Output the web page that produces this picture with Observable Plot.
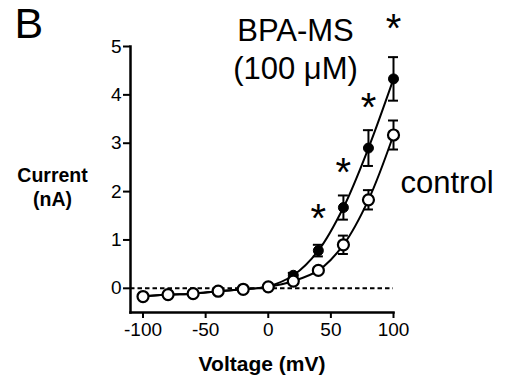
<!DOCTYPE html>
<html>
<head>
<meta charset="utf-8">
<script src="https://cdn.jsdelivr.net/npm/d3@7"></script>
<script src="https://cdn.jsdelivr.net/npm/@observablehq/plot@0.6"></script>
<style>
  html, body { margin: 0; padding: 0; background: #fff; }
  #chart { width: 510px; height: 381px; }
</style>
</head>
<body>
<div id="chart"></div>
<script>
// ---- data ----
const voltage = [-100, -80, -60, -40, -20, 0, 20, 40, 60, 80, 100];
const controlMean = [-0.17, -0.13, -0.11, -0.06, -0.02, 0.03, 0.15, 0.37, 0.90, 1.83, 3.17];
const controlErr  = [0.02, 0.02, 0.02, 0.02, 0.02, 0.03, 0.04, 0.06, 0.19, 0.20, 0.30];
const bpaMean = [-0.17, -0.13, -0.11, -0.06, -0.02, 0.04, 0.27, 0.78, 1.67, 2.90, 4.33];
const bpaErr  = [0.02, 0.02, 0.02, 0.02, 0.02, 0.03, 0.05, 0.12, 0.25, 0.37, 0.45];
const sigVoltage = [40, 60, 80, 100];
const sigLevel = [1.60, 2.55, 3.88, 5.52];
const xTicks = [-100, -50, 0, 50, 100];
const yTicks = [0, 1, 2, 3, 4, 5];
const panelLabel = "B";
const xLabel = "Voltage (mV)";
const yLabel = "Current\n(nA)";
const bpaLabel = "BPA-MS\n(100 μM)";
const controlLabel = "control";

const control = voltage.map((v, i) => ({v, m: controlMean[i], e: controlErr[i]}));
const bpa = voltage.map((v, i) => ({v, m: bpaMean[i], e: bpaErr[i]}));
const sig = sigVoltage.map((v, i) => ({v, y: sigLevel[i]}));
const caps = s => s.flatMap(d => [{v: d.v, y: d.m - d.e}, {v: d.v, y: d.m + d.e}]);

const font = "Liberation Sans, Arial, Helvetica, sans-serif";

function errorBars(data) {
  return [
    Plot.ruleX(data, {x: "v", y1: d => d.m - d.e, y2: d => d.m + d.e, stroke: "#000", strokeWidth: 2}),
    Plot.ruleY(caps(data), {x1: "v", x2: "v", y: "y", insetLeft: -5, insetRight: -5, stroke: "#000", strokeWidth: 2})
  ];
}

const chart = Plot.plot({
  width: 510,
  height: 381,
  marginLeft: 130,
  marginRight: 117,
  marginTop: 46,
  marginBottom: 69,
  style: {fontFamily: font, color: "#000", background: "#fff", overflow: "visible"},
  x: {type: "linear", domain: [-110, 100]},
  y: {type: "linear", domain: [-0.5, 5]},
  marks: [
    Plot.ruleY([0], {stroke: "#000", strokeWidth: 2, strokeDasharray: "4.5,3"}),
    Plot.frame({anchor: "left", stroke: "#000", strokeWidth: 2.5}),
    Plot.frame({anchor: "bottom", stroke: "#000", strokeWidth: 2.5}),
    Plot.axisY(yTicks, {tickSize: 7, tickPadding: 2, fontSize: 19, strokeWidth: 2, label: null, fill: "#000", stroke: "#000", tickFormat: d => String(d)}),
    Plot.axisX(xTicks, {tickSize: 6, tickPadding: 4, fontSize: 19, strokeWidth: 2, label: null, fill: "#000", stroke: "#000", tickFormat: d => String(d)}),
    // BPA-MS series
    Plot.line(bpa, {x: "v", y: "m", curve: "catmull-rom", stroke: "#000", strokeWidth: 2}),
    ...errorBars(bpa),
    // control series
    Plot.line(control, {x: "v", y: "m", curve: "catmull-rom", stroke: "#000", strokeWidth: 2}),
    ...errorBars(control),
    Plot.dot(bpa, {x: "v", y: "m", r: 5, fill: "#000", stroke: "#000", strokeWidth: 1}),
    Plot.dot(control, {x: "v", y: "m", r: 5.5, fill: "#fff", stroke: "#000", strokeWidth: 2.2}),
    // significance stars
    Plot.text(sig, {x: "v", y: "y", text: () => "*", fontSize: 40, dy: 8, fill: "#000", clip: false}),
    // annotations
    Plot.text([bpaLabel], {frameAnchor: "top-left", dx: 165, dy: -32, textAnchor: "middle", lineAnchor: "top", lineHeight: 1.22, fontSize: 31, fill: "#000"}),
    Plot.text([controlLabel], {frameAnchor: "top-right", dx: 7, dy: 124, textAnchor: "start", lineAnchor: "top", fontSize: 31, fill: "#000"}),
    Plot.text([xLabel], {frameAnchor: "bottom", dy: 44, lineAnchor: "top", fontSize: 21, fontWeight: "bold", fill: "#000"}),
    Plot.text([yLabel], {frameAnchor: "top-left", dx: -78, dy: 118, textAnchor: "middle", lineAnchor: "top", lineHeight: 1.25, fontSize: 19.5, fontWeight: "bold", fill: "#000"}),
    Plot.text([panelLabel], {frameAnchor: "top-left", dx: -116, dy: -39, textAnchor: "start", lineAnchor: "top", fontSize: 43, fill: "#000"})
  ]
});
document.getElementById("chart").appendChild(chart);
</script>
</body>
</html>
